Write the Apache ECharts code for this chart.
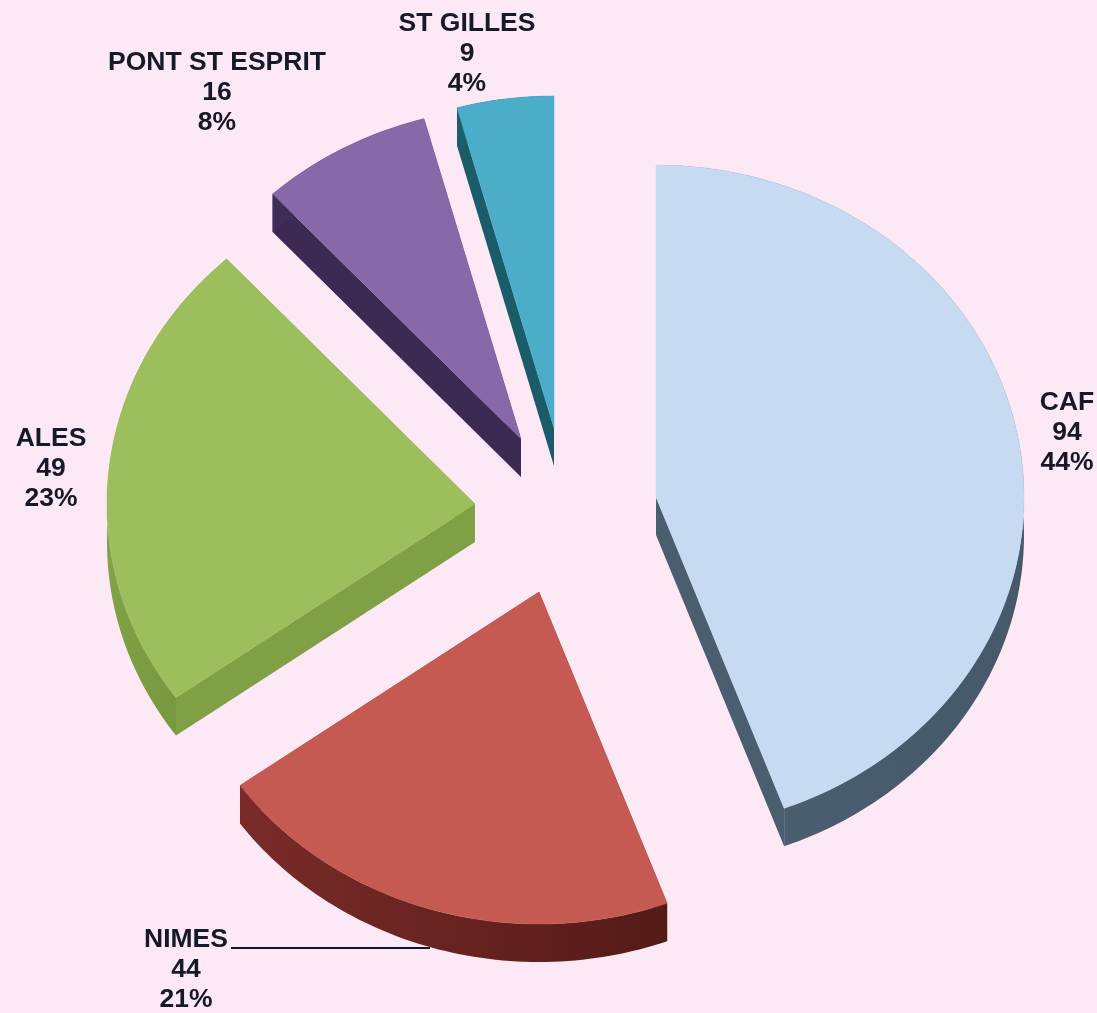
<!DOCTYPE html>
<html><head><meta charset="utf-8">
<style>html,body{margin:0;padding:0;background:#FDE9F5}#c{width:1097px;height:1013px}</style>
<script src="https://cdn.jsdelivr.net/npm/echarts@6/dist/echarts.min.js"></script>
</head><body><div id="c"></div>
<script>
const categories = ['CAF', 'NIMES', 'ALES', 'PONT ST ESPRIT', 'ST GILLES'];
const counts = [94, 44, 49, 16, 9];

// Layout and style only: no values here.
const layout = {
  radiusX: 368, radiusY: 332, depth: 38,
  apex: [[656, 497], [539, 592], [475, 504], [521, 439], [554, 428]],
  label: [[1067, 433], [186, 970], [51, 469], [217, 93], [467, 54]],
  leader: { from: [231, 948], to: [430, 948] }
};
const topColors = ['#C6DBF1', '#C55A53', '#9DBE5C', '#8768A9', '#4BADC8'];
const arcSideFrom = ['#46596B', '#7A2B29', '#82A247', '#3F2D58', '#1B5F6E'];
const arcSideTo = ['#4C6072', '#551B17', '#6F9139', '#3F2D58', '#1B5F6E'];
const edgeSide = ['#4A5E70', '#5A1B18', '#7FA044', '#3C2A52', '#1A5C6A'];

const total = counts.reduce((a, b) => a + b, 0);
const startAngles = [];
counts.reduce((acc, v, i) => { startAngles[i] = acc; return acc + v; }, 0);

function renderSlice(params, api) {
  const i = params.dataIndex;
  const value = api.value(0);
  const a0 = startAngles[i] / total * 2 * Math.PI;
  const a1 = (startAngles[i] + value) / total * 2 * Math.PI;
  const [cx, cy] = layout.apex[i];
  const d = layout.depth;
  const steps = Math.max(6, Math.ceil((a1 - a0) / 0.02));
  const arc = [];
  for (let s = 0; s <= steps; s++) {
    const a = a0 + (a1 - a0) * s / steps;
    arc.push([cx + layout.radiusX * Math.sin(a), cy - layout.radiusY * Math.cos(a)]);
  }
  const down = p => [p[0], p[1] + d];
  const px = pts => pts.map(p => api.coord(p));
  const apex = [cx, cy];
  const first = arc[0], last = arc[arc.length - 1];
  const children = [];
  // radial side walls
  [first, last].forEach(p => {
    children.push({
      type: 'polygon',
      shape: { points: px([apex, p, down(p), down(apex)]) },
      style: { fill: edgeSide[i] }
    });
  });
  // outer wall, one single band
  children.push({
    type: 'polygon',
    shape: { points: px(arc.concat(arc.slice().reverse().map(down))) },
    style: {
      fill: new echarts.graphic.LinearGradient(0, 0, 1, 0, [
        { offset: 0, color: i === 0 ? arcSideTo[i] : arcSideFrom[i] },
        { offset: 1, color: i === 0 ? arcSideFrom[i] : arcSideTo[i] }
      ])
    }
  });
  // top face
  children.push({
    type: 'polygon',
    shape: { points: px([apex].concat(arc)) },
    style: { fill: topColors[i], stroke: topColors[i], lineWidth: 0.5 }
  });
  if (categories[i] === 'NIMES') {
    const f = api.coord(layout.leader.from), t = api.coord(layout.leader.to);
    children.push({
      type: 'line',
      shape: { x1: f[0], y1: f[1], x2: t[0], y2: t[1] },
      style: { stroke: '#10182A', lineWidth: 2 }
    });
  }
  const lp = api.coord(layout.label[i]);
  children.push({
    type: 'text',
    style: {
      text: categories[i] + '\n' + value + '\n' + Math.round(value / total * 100) + '%',
      x: lp[0], y: lp[1], align: 'center', verticalAlign: 'middle',
      font: 'bold 26.5px "Liberation Sans", Arial, sans-serif',
      lineHeight: 30, fill: '#141A28'
    }
  });
  return { type: 'group', children };
}

const chart = echarts.init(document.getElementById('c'), null, { renderer: 'canvas' });
chart.setOption({
  backgroundColor: '#FDE9F5',
  animation: false,
  grid: { left: 0, right: 0, top: 0, bottom: 0 },
  xAxis: { type: 'value', min: 0, max: 1097, show: false },
  yAxis: { type: 'value', min: 0, max: 1013, inverse: true, show: false },
  series: [{
    type: 'custom',
    coordinateSystem: 'cartesian2d',
    clip: false,
    silent: true,
    renderItem: renderSlice,
    encode: { x: 1, y: 2 },
    data: counts.map((v, i) => ({ name: categories[i], value: [v, layout.apex[i][0], layout.apex[i][1]] }))
  }]
});
</script></body></html>
